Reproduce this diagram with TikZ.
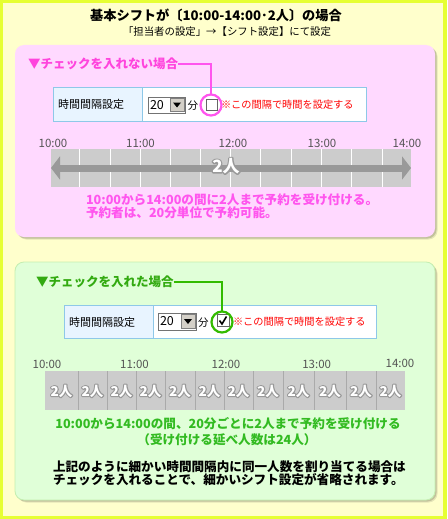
\documentclass[tikz,border=0pt]{standalone}
\usepackage{fontspec}
\setmainfont{Noto Sans CJK JP}
\usetikzlibrary{arrows.meta}
\definecolor{borderY}{HTML}{E6FF33}
\definecolor{bgY}{HTML}{FFFFCC}
\definecolor{pinkF}{HTML}{FFD9FF}
\definecolor{greenF}{HTML}{E0FFD8}
\definecolor{greenB}{HTML}{C4EEB0}
\definecolor{pinkT}{HTML}{FF44DD}
\definecolor{pinkL}{HTML}{FF55EE}
\definecolor{greenT}{HTML}{33AA11}
\definecolor{greenL}{HTML}{33BB00}
\definecolor{greenTx}{HTML}{33BB22}
\definecolor{tblB}{HTML}{8EC8E8}
\definecolor{tblL}{HTML}{E8F4FF}
\definecolor{timeG}{HTML}{555555}
\definecolor{barG}{HTML}{CCCCCC}
\definecolor{arrG}{HTML}{999999}
\definecolor{sepG}{HTML}{AAAAAA}
\definecolor{btnG}{HTML}{D4D0C8}
% white text with a gray outline: stroked copy below, filled copy on top
\newcommand\outl[2]{\rlap{\color{arrG}\special{pdf:literal direct 1 Tr #1 w 1 j}#2\special{pdf:literal direct 0 Tr}}\textcolor{white}{#2}}
\begin{document}
\begin{tikzpicture}[x=1pt,y=-1pt,
  every node/.style={inner sep=0pt, outer sep=0pt},
  tl/.style={font=\fontsize{11.5}{12}\selectfont, text=timeG},
  boxtitle/.style={font=\bfseries\fontsize{12.5}{13}\selectfont, anchor=west},
  tbltext/.style={font=\fontsize{11}{12}\selectfont, anchor=west},
  redtext/.style={font=\fontsize{10.2}{12}\selectfont, text=red, anchor=west},
  bodytext/.style={font=\bfseries\fontsize{12.6}{13}\selectfont},
  ring/.style={circle, minimum size=21pt, line width=2.2pt},
  chk/.style={draw=black!60, fill=white, line width=0.8pt},
  sel/.style={draw=black!55, fill=white, line width=0.8pt},
  btn/.style={draw=black!50, fill=btnG, line width=0.6pt}
]
\useasboundingbox (0,0) rectangle (447,519);
\fill[borderY] (0,0) rectangle (447,519);
\fill[bgY] (3,3) rectangle (443,516);

% titles
\node[font=\bfseries\fontsize{13.2}{14}\selectfont] (title) at (216,15) {基本シフトが〔10:00-14:00･2人〕の場合};
\node[font=\fontsize{10.4}{12}\selectfont] (subtitle) at (227,32) {「担当者の設定」→【シフト設定】にて設定};

% ---------- pink box ----------
\fill[black, opacity=0.10, rounded corners=9pt] (17.5,47.5) rectangle (437.5,239.5);
\fill[black, opacity=0.15, rounded corners=9pt] (16.5,46.5) rectangle (436.5,238.5);
\fill[pinkF, rounded corners=9pt] (15,45) rectangle (435,237);

\node[boxtitle, text=pinkT] (ptitle) at (28,64) {▼チェックを入れない場合};

% table 1
\fill[white] (53,87) rectangle (366,121);
\fill[tblL] (53,87) rectangle (142,121);
\draw[tblB, line width=0.9pt] (53,87) rectangle (366,121);
\draw[tblB, line width=0.9pt] (142,87) -- (142,121);
\node[tbltext] (plabel) at (58,104) {時間間隔設定};
\node[sel, minimum width=37pt, minimum height=16pt] (psel) at (166.5,105) {};
\node[font=\fontsize{12.5}{13}\selectfont, anchor=west] (pnum) at (150,105) {20};
\node[btn, minimum width=14pt, minimum height=13pt] (pbtn) at (177,105) {};
\fill[black] (173,102.5) -- (181,102.5) -- (177,107.5) -- cycle;
\node[tbltext, font=\fontsize{10.5}{12}\selectfont] (pfun) at (187.5,105.5) {分};
\node[chk, minimum size=11pt] (pchk) at (212,105) {};
\node[redtext] (pred) at (221,105) {※この間隔で時間を設定する};
\node[ring, draw=pinkL] (pring) at (211,105) {};
\draw[pinkL, line width=2pt] (ptitle.east) -| (pring);

% time labels 1
\foreach \x/\t/\n in {53/10:00/1, 140.5/11:00/2, 233/12:00/3, 322/13:00/4, 407/14:00/5}
  \node[tl] (pt\n) at (\x,143) {\t};

% bar 1
\fill[barG] (51,149) rectangle (411,187);
\foreach \x in {79,110,140,170,200,230,260,291,321,351,382}
  \draw[white, line width=1pt] (\x,149) -- (\x,187);
\coordinate (pl) at (51,168);
\coordinate (pr) at (411,168);
\draw[arrG, line width=7pt, {Triangle[width=23pt,length=9pt]}-{Triangle[width=23pt,length=9pt]}] (pl) -- (pr);
\node[font=\bfseries\fontsize{17}{18}\selectfont] (pcount) at (226,166) {\outl{2.6}{2人}};

\node[bodytext, text=pinkL, anchor=north west, align=left] (pbody) at (86,194)
  {10:00から14:00の間に2人まで予約を受け付ける。\\予約者は、20分単位で予約可能。};

% ---------- green box ----------
\fill[black, opacity=0.10, rounded corners=9pt] (17.5,264.5) rectangle (437.5,502.5);
\fill[black, opacity=0.15, rounded corners=9pt] (16.5,263.5) rectangle (436.5,501.5);
\fill[greenF, draw=greenB, line width=0.8pt, rounded corners=9pt] (15,262) rectangle (435,500);

\node[boxtitle, text=greenT] (gtitle) at (36,282) {▼チェックを入れた場合};

% table 2
\fill[white] (64,305) rectangle (376,338);
\fill[tblL] (64,305) rectangle (153,338);
\draw[tblB, line width=0.9pt] (64,305) rectangle (376,338);
\draw[tblB, line width=0.9pt] (153,305) -- (153,338);
\node[tbltext] (glabel) at (69,322) {時間間隔設定};
\node[sel, minimum width=38pt, minimum height=17pt] (gsel) at (177,321.5) {};
\node[font=\fontsize{12.5}{13}\selectfont, anchor=west] (gnum) at (160,321.5) {20};
\node[btn, minimum width=14pt, minimum height=14pt] (gbtn) at (188,321.5) {};
\fill[black] (184,319) -- (192,319) -- (188,324) -- cycle;
\node[tbltext, font=\fontsize{10.5}{12}\selectfont] (gfun) at (198,322.5) {分};
\node[chk, minimum size=12pt] (gchk) at (223,320.5) {};
\draw[black, line width=1.6pt] (219.5,320.5) -- (222,324) -- (226.5,316.5);
\node[redtext] (gred) at (233,322) {※この間隔で時間を設定する};
\node[ring, draw=greenL] (gring) at (222,322) {};
\draw[greenL, line width=2pt] (gtitle.east) -| (gring);

% time labels 2
\foreach \x/\y/\t/\n in {47/364/10:00/1, 134.5/364/11:00/2, 226/364/12:00/3, 316.7/364/13:00/4, 400/363/14:00/5}
  \node[tl] (gt\n) at (\x,\y) {\t};

% bar 2
\fill[barG] (45,371) rectangle (405,410);
\foreach \x in {78,107,136,165,195,224,253,283,314,346,376}
  \draw[sepG, line width=0.9pt] (\x,371) -- (\x,410);
\foreach \a/\b [count=\i] in {45/78,78/107,107/136,136/165,165/195,195/224,224/253,253/283,283/314,314/346,346/376,376/405}
  \node[font=\bfseries\fontsize{13.5}{14}\selectfont] (gc\i) at ({(\a+\b)/2},391) {\outl{2.2}{2人}};

\node[bodytext, text=greenTx] (gbody1) at (228,424) {10:00から14:00の間、20分ごとに2人まで予約を受け付ける};
\node[bodytext, text=greenTx] (gbody2) at (227,440) {（受け付ける延べ人数は24人）};

\node[bodytext, anchor=north west, align=left] (note) at (53,461)
  {上記のように細かい時間間隔内に同一人数を割り当てる場合は\\チェックを入れることで、細かいシフト設定が省略されます。};
\end{tikzpicture}
\end{document}
